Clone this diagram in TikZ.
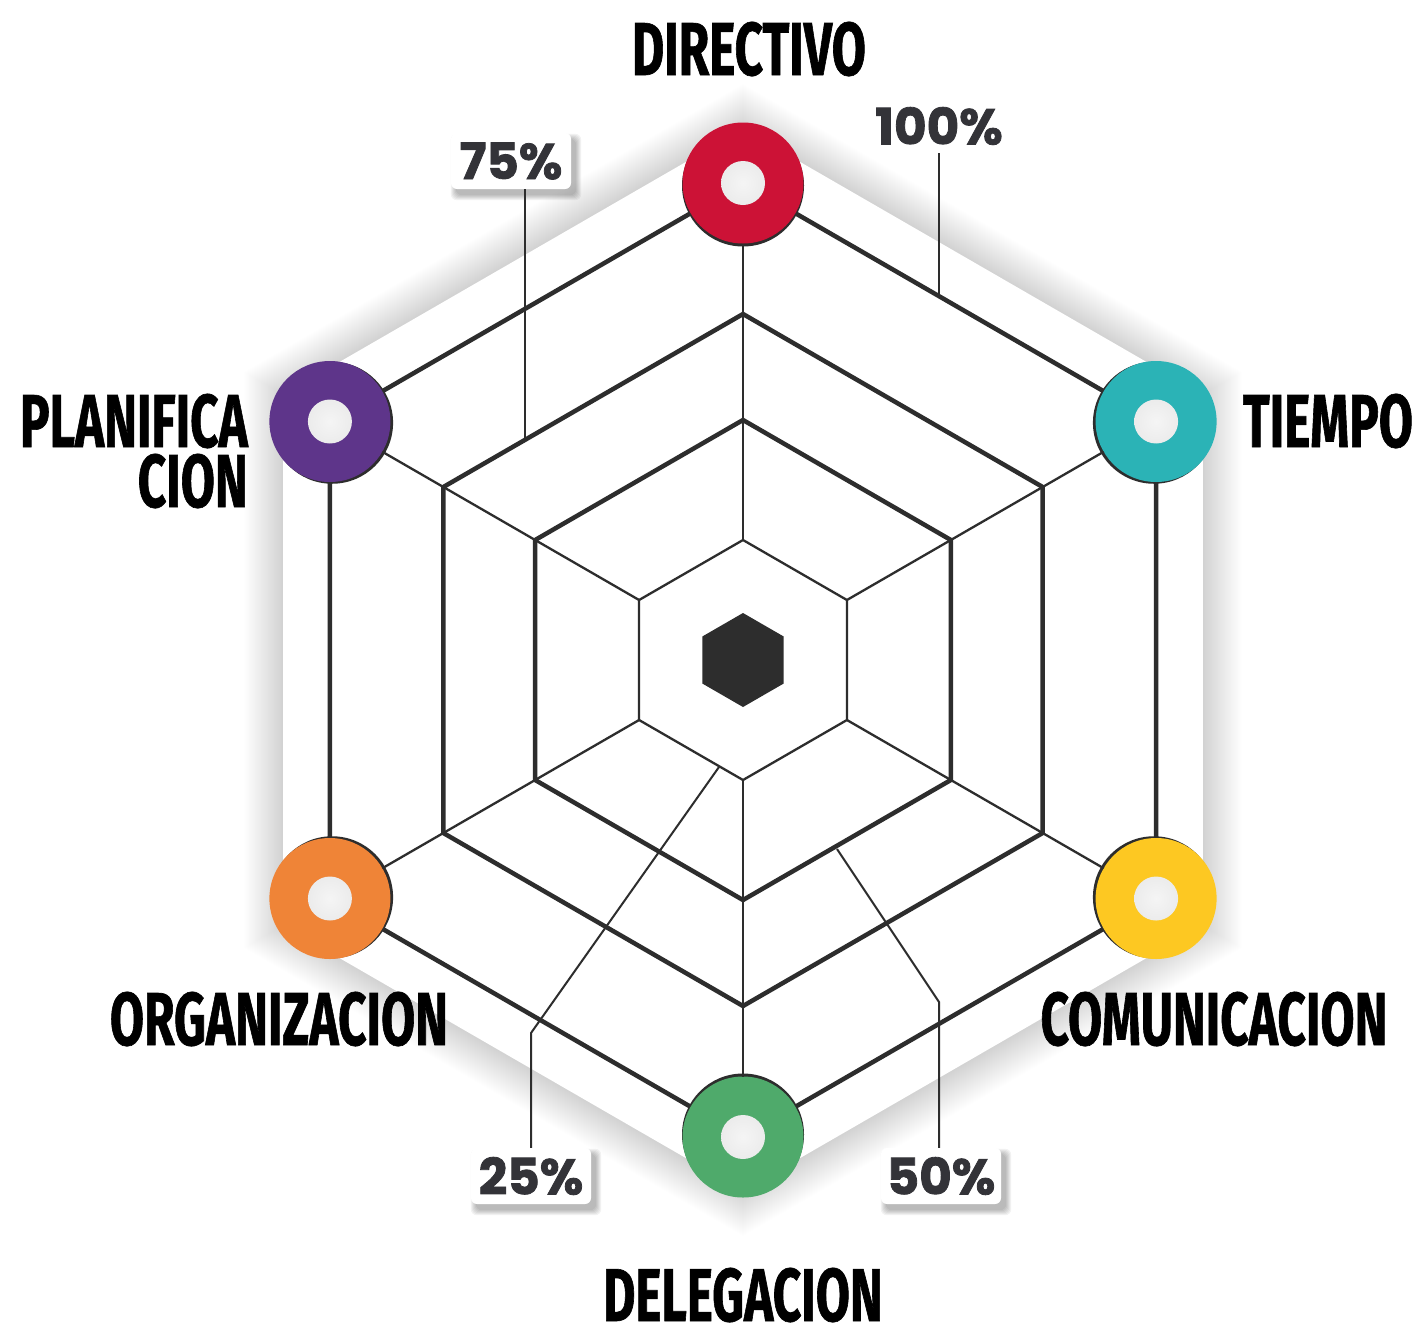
\documentclass[tikz,border=0pt]{standalone}
\usepackage{fontspec}
\setmainfont{Fira Sans}
\newfontfamily\labelfont{Fira Sans}[FakeStretch=0.66,FakeBold=0.8]
\newfontfamily\pctfont{Poppins}[FakeBold=1.6]
\usetikzlibrary{calc}
\definecolor{dark}{HTML}{2D2D2D}
\definecolor{pcttext}{HTML}{333338}
\definecolor{cred}{HTML}{CC1236}
\definecolor{cteal}{HTML}{2BB3B6}
\definecolor{cyellow}{HTML}{FDC822}
\definecolor{cgreen}{HTML}{4FAA6B}
\definecolor{corange}{HTML}{EF8437}
\definecolor{cpurple}{HTML}{5E358A}
\pgfdeclarelayer{back}
\pgfdeclarelayer{mid}
\pgfsetlayers{back,mid,main}
\tikzset{
  thickline/.style={line width=4.5, draw=dark, line join=miter},
  thinline/.style={line width=2.3, draw=dark},
  callout/.style={line width=2, draw=dark},
  ring/.style={circle, fill=#1, minimum size=121, inner sep=0, outer sep=0,
    path picture={\shade[inner color=black!4, outer color=black!14]
      (path picture bounding box.center) circle[radius=22];}},
  lab/.style={font=\labelfont\bfseries\fontsize{75}{60}\selectfont, text=black, inner sep=0},
  pct/.style={font=\pctfont\bfseries\fontsize{50}{50}\selectfont, text=pcttext, inner sep=0},
  pbox/.style={pct, fill=white, rounded corners=6, minimum width=120, minimum height=56},
}
\begin{document}
\begin{tikzpicture}[x=1pt,y=-1pt]
\useasboundingbox (0,0) rectangle (1426,1336);
\begin{scope}[shift={(743,660)}]
  % background hexagon with soft shadow
  \begin{pgfonlayer}{back}
    \foreach \i [evaluate=\i as \rr using 531+\i] in {1,...,45}
      \fill[black, opacity=0.0022] (90:\rr) foreach \a in {30,-30,-90,-150,150}{ -- (\a:\rr)} -- cycle;
    \fill[white] (90:531) foreach \a in {30,-30,-90,-150,150}{ -- (\a:531)} -- cycle;
  \end{pgfonlayer}
  % hexagon grid
  \foreach \r in {477,346,240}
    \draw[thickline] (90:\r) foreach \a in {30,-30,-90,-150,150}{ -- (\a:\r)} -- cycle;
  \draw[thinline, line join=miter] (90:120) foreach \a in {30,-30,-90,-150,150}{ -- (\a:120)} -- cycle;
  \fill[dark] (90:47) foreach \a in {30,-30,-90,-150,150}{ -- (\a:47)} -- cycle;
  % vertex coordinates (y axis points down: -90 is the top)
  \foreach \a [count=\k] in {-90,-30,30,90,150,-150}
    \coordinate (in\k) at (\a:120);
  % rings
  \foreach \a/\c [count=\k] in {-90/cred,-30/cteal,30/cyellow,90/cgreen,150/corange,-150/cpurple}{
    \fill[dark] (\a:474.5) circle[radius=61];
    \node[ring=\c] (ring\k) at (\a:477) {};
  }
  % spokes
  \foreach \k in {1,...,6}
    \draw[thinline] (in\k) -- (ring\k);
\end{scope}
% labels
\node[lab, anchor=base] (tdir) at (749,75) {DIRECTIVO};
\node[lab, anchor=base] (ttie) at (1328,447) {TIEMPO};
\node[lab, anchor=base east] (tpla1) at (248,447) {PLANIFICA};
\node[lab, anchor=base east] (tpla2) at (248,507) {CION};
\node[lab, anchor=base] (torg) at (279,1045) {ORGANIZACION};
\node[lab, anchor=base] (tcom) at (1214,1045) {COMUNICACION};
\node[lab, anchor=base] (tdel) at (743,1321) {DELEGACION};
% percentage labels
\node[pct] (p100) at (939,126) {100\%};
\node[pbox] (p75) at (511,161) {75\%};
\node[pbox] (p25) at (531,1176) {25\%};
\node[pbox] (p50) at (941,1176) {50\%};
\begin{pgfonlayer}{mid}
  \foreach \n in {p75,p25,p50}
    \foreach \i in {0,...,5}
      \fill[black, opacity=0.05, rounded corners=6]
        ([shift={(5-\i,6-\i)}]\n.north west) rectangle ([shift={(5+\i,6+\i)}]\n.south east);
\end{pgfonlayer}
% callout connectors
\coordinate (e100) at (939,297);
\coordinate (e75) at (525,442);
\coordinate (b25) at (531,1033);
\coordinate (e25) at (719,767);
\coordinate (b50) at (939,1002);
\coordinate (e50) at (837,849);
\draw[callout] ([yshift=-8pt]p100.south) -- (e100);
\draw[callout] (p75.south -| e75) -- (e75);
\draw[callout] (p25.north) -- (b25) -- (e25);
\draw[callout] (p50.north -| b50) -- (b50) -- (e50);
\end{tikzpicture}
\end{document}
